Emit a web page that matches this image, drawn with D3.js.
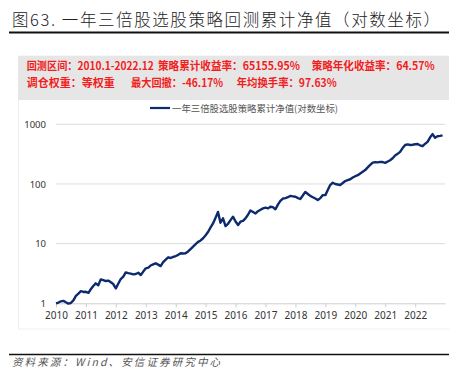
<!DOCTYPE html>
<html><head><meta charset="utf-8">
<script src="https://cdn.jsdelivr.net/npm/d3@7"></script>
<style>
html,body{margin:0;padding:0;background:#fff;}
svg{display:block;font-family:"Noto Sans","Noto Sans CJK SC",sans-serif;}
</style></head>
<body>
<svg id="c" width="449" height="372"></svg>
<script>
// ---- data ----
const startYear = 2010, startMonth = 0; // monthly series from 2010-01
const navValues = [
  // 2010
  1.00, 1.03, 1.08, 1.10, 1.04, 0.99, 1.01, 1.12, 1.33, 1.45, 1.60, 1.55,
  // 2011
  1.56, 1.50, 1.72, 1.95, 2.16, 2.00, 2.52, 2.45, 2.36, 2.40, 2.25, 2.10,
  // 2012
  1.78, 2.15, 2.55, 2.80, 3.30, 3.20, 3.15, 3.06, 3.10, 3.25, 2.98, 3.40,
  // 2013
  3.86, 3.95, 4.30, 4.50, 4.68, 4.45, 4.20, 4.90, 5.40, 5.90, 5.75, 6.00,
  // 2014
  6.20, 6.50, 6.90, 6.85, 6.90, 7.40, 8.10, 8.90, 9.80, 10.7, 11.3, 12.3,
  // 2015
  13.8, 15.8, 18.5, 21.8, 27.0, 34.0, 22.4, 26.5, 19.7, 21.5, 24.8, 28.3,
  // 2016
  23.5, 20.5, 23.3, 24.0, 26.5, 30.5, 36.0, 34.0, 32.0, 35.0, 37.0, 39.0,
  // 2017
  40.0, 39.0, 41.5, 41.0, 37.6, 45.0, 52.0, 57.0, 58.0, 60.0, 63.0, 62.0,
  // 2018
  61.0, 58.0, 56.0, 64.0, 73.6, 68.0, 63.0, 60.0, 57.0, 53.8, 58.0, 65.0,
  // 2019
  65.0, 80.0, 96.0, 105.0, 100.0, 98.0, 96.0, 104.0, 112.0, 116.0, 120.0, 128.0,
  // 2020
  135.0, 140.0, 150.0, 160.0, 171.0, 190.0, 208.0, 228.0, 232.0, 230.0, 235.0, 233.0,
  // 2021
  226.0, 238.0, 250.0, 270.0, 300.0, 320.0, 345.0, 400.0, 450.0, 460.0, 450.0, 455.0,
  // 2022
  462.0, 467.0, 445.0, 430.0, 470.0, 508.0, 600.0, 685.0, 595.0, 630.0, 640.0, 652.0
];
const yearTicks = [2010,2011,2012,2013,2014,2015,2016,2017,2018,2019,2020,2021,2022];
const yTicks = [1, 10, 100, 1000];
const seriesName = "一年三倍股选股策略累计净值(对数坐标)";
const titleText = "图63. 一年三倍股选股策略回测累计净值（对数坐标）";
const infoLine1 = ["回测区间：2010.1-2022.12", "策略累计收益率：65155.95%", "策略年化收益率：64.57%"];
const infoLine2 = ["调仓权重：等权重", "最大回撤：-46.17%", "年均换手率：97.63%"];
const sourceText = "资料来源：Wind、安信证券研究中心";

// ---- drawing ----
const svg = d3.select("#c");
const lineColor = "#0e2a6e";
const red = "#f21d1d";

// title
svg.append("text").attr("x", 12).attr("y", 26)
  .attr("font-family", "'Noto Sans CJK SC',sans-serif")
  .attr("font-size", 16.5).attr("font-weight", 300).attr("fill", "#222")
  .attr("textLength", 428).attr("lengthAdjust", "spacing")
  .text(titleText);
svg.append("line").attr("x1", 9).attr("x2", 449).attr("y1", 32.5).attr("y2", 32.5)
  .attr("stroke", "#111").attr("stroke-width", 1.8);

// panel
svg.append("rect").attr("x", 18.5).attr("y", 56).attr("width", 431).attr("height", 273)
  .attr("fill", "#fff").attr("stroke", "#efefef");
svg.append("rect").attr("x", 18).attr("y", 56).attr("width", 431).attr("height", 44)
  .attr("fill", "#e6e6e6");

// info text
const l1x = [26.7, 158, 311.7], l1w = [127, 142, 123];
const l2x = [26.7, 131, 236.7], l2w = [88, 92, 100];
infoLine1.forEach((t, i) => {
  svg.append("text").attr("x", l1x[i]).attr("y", 70)
    .attr("font-family", "'Noto Sans CJK SC',sans-serif")
    .attr("font-size", 11).attr("font-weight", "bold").attr("fill", red)
    .attr("textLength", l1w[i]).attr("lengthAdjust", "spacingAndGlyphs").text(t);
});
infoLine2.forEach((t, i) => {
  svg.append("text").attr("x", l2x[i]).attr("y", 86.5)
    .attr("font-family", "'Noto Sans CJK SC',sans-serif")
    .attr("font-size", 11).attr("font-weight", "bold").attr("fill", red)
    .attr("textLength", l2w[i]).attr("lengthAdjust", "spacingAndGlyphs").text(t);
});

// scales
const x = d3.scaleTime()
  .domain([new Date(2010, 0, 1), new Date(2022, 11, 31)])
  .range([56, 445]);
const y = d3.scaleLog().domain([1, 1000]).range([303.3, 124.3]);

// grid
const g = svg.append("g");
g.selectAll("line.grid").data(yTicks.slice(1)).join("line")
  .attr("x1", 56).attr("x2", 445)
  .attr("y1", d => y(d)).attr("y2", d => y(d))
  .attr("stroke", "#dcdcdc").attr("stroke-width", 1);

// x axis
const xAxis = d3.axisBottom(x)
  .tickValues(yearTicks.map(v => new Date(v, 0, 1)))
  .tickFormat(d3.timeFormat("%Y")).tickSize(4).tickSizeOuter(0);
const xg = svg.append("g").attr("transform", "translate(0,303.3)").call(xAxis);
xg.select(".domain").attr("stroke", "#cfcfcf");
xg.selectAll(".tick line").attr("stroke", "#cfcfcf");
xg.selectAll(".tick text").attr("font-size", 10).attr("fill", "#333")
  .attr("font-family", "'Noto Sans',sans-serif").attr("dy", "0.71em").attr("y", 9);

// y axis labels
const yAxis = d3.axisLeft(y).tickValues(yTicks).tickFormat(d3.format("d")).tickSize(0);
const yg = svg.append("g").attr("transform", "translate(56,0)").call(yAxis);
yg.select(".domain").remove();
yg.selectAll(".tick text").attr("font-size", 9.5).attr("fill", "#333")
  .attr("font-family", "'Noto Sans',sans-serif").attr("x", -10);

// series line
const pts = navValues.map((v, i) => ({date: new Date(startYear, startMonth + i, 1), v}));
const line = d3.line().x(d => x(d.date)).y(d => y(d.v));
svg.append("path").datum(pts).attr("d", line)
  .attr("fill", "none").attr("stroke", lineColor).attr("stroke-width", 2.4)
  .attr("stroke-linejoin", "round");

// legend
svg.append("line").attr("x1", 150).attr("x2", 170).attr("y1", 108).attr("y2", 108)
  .attr("stroke", lineColor).attr("stroke-width", 2.2);
svg.append("text").attr("x", 172).attr("y", 111.5)
  .attr("font-family", "'Noto Sans CJK SC',sans-serif")
  .attr("font-size", 9.5).attr("fill", "#555")
  .attr("textLength", 166).attr("lengthAdjust", "spacingAndGlyphs")
  .text(seriesName);

// footer
svg.append("line").attr("x1", 9).attr("x2", 449).attr("y1", 354.5).attr("y2", 354.5)
  .attr("stroke", "#111").attr("stroke-width", 1.3);
svg.append("text").attr("x", 12).attr("y", 366)
  .attr("font-family", "'Noto Sans CJK SC',sans-serif")
  .attr("font-size", 10.5).attr("font-style", "italic").attr("fill", "#555")
  .attr("textLength", 208).attr("lengthAdjust", "spacing")
  .text(sourceText);
</script>
</body></html>
